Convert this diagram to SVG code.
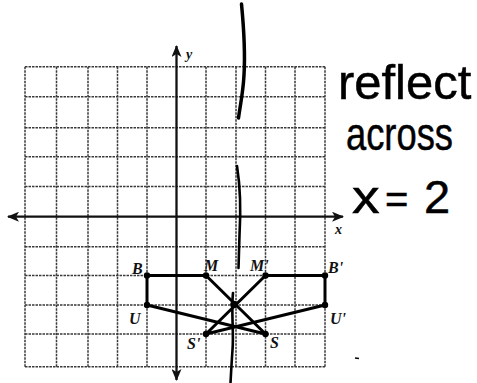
<svg xmlns="http://www.w3.org/2000/svg" width="477" height="383" viewBox="0 0 477 383">
<style>
.grid{stroke:#3a3a3a;stroke-width:1.5;stroke-dasharray:2.5 1;fill:none}
.axis{stroke:#111;stroke-width:2.3;fill:none}
.edge{stroke:#000;stroke-width:3;fill:none;stroke-linejoin:round}
.dot{fill:#000}
.lbl{font-family:"Liberation Serif",serif;font-style:italic;font-weight:bold;font-size:16px;fill:#111}
.ax{font-family:"Liberation Serif",serif;font-style:italic;font-weight:bold;font-size:14px;fill:#111}
.hand{font-family:"Liberation Sans","DejaVu Sans",sans-serif;fill:#000;stroke:#000;stroke-width:0.5}
.pen{stroke:#000;fill:none;stroke-linecap:round}
</style>
<defs>
<marker id="arr" markerUnits="userSpaceOnUse" markerWidth="12" markerHeight="10" refX="11" refY="5" orient="auto-start-reverse">
<path d="M0,0 L12,5 L0,10 L3,5 z" fill="#111"/>
</marker>
</defs>
<rect width="477" height="383" fill="#fff"/>
<g id="grid">
<path class="grid" d="M25,66.7V366.7M56.5,66.7V366.7M88,66.7V366.7M117.5,66.7V366.7M147,66.7V366.7M206,66.7V366.7M236,66.7V366.7M265.5,66.7V366.7M295,66.7V366.7M325,66.7V366.7"/>
<path class="grid" d="M25,66.7H325M25,96.7H325M25,127.7H325M25,156.7H325M25,186.5H325M25,246.7H325M25,275.5H325M25,305H325M25,334H325M25,366.7H325"/>
</g>
<g id="axes">
<line class="axis" x1="8" y1="216.7" x2="343" y2="216.7" marker-start="url(#arr)" marker-end="url(#arr)"/>
<line class="axis" x1="176.5" y1="380" x2="176.5" y2="46" marker-start="url(#arr)" marker-end="url(#arr)"/>
<text class="ax" x="186" y="59">y</text>
<text class="ax" x="335" y="234" font-size="12">x</text>
</g>
<g id="connectors">
<path class="edge" d="M147,275.5H206L265.5,334L147,305Z"/>
<path class="edge" d="M325,275.5H265.5L206,334L325,305Z"/>
</g>
<g id="B"><circle class="dot" cx="147" cy="275.5" r="3.2"/><text class="lbl" x="132" y="274">B</text></g>
<g id="M"><circle class="dot" cx="206" cy="275.5" r="3.2"/><text class="lbl" x="204" y="271">M</text></g>
<g id="S"><circle class="dot" cx="265.5" cy="334" r="3.2"/><text class="lbl" x="270" y="348">S</text></g>
<g id="U"><circle class="dot" cx="147" cy="305" r="3.2"/><text class="lbl" x="129" y="324">U</text></g>
<g id="Bp"><circle class="dot" cx="325" cy="275.5" r="3.2"/><text class="lbl" x="328" y="273">B'</text></g>
<g id="Mp"><circle class="dot" cx="265.5" cy="275.5" r="3.2"/><text class="lbl" x="250" y="271">M'</text></g>
<g id="Sp"><circle class="dot" cx="206" cy="334" r="3.2"/><text class="lbl" x="187" y="349">S'</text></g>
<g id="Up"><circle class="dot" cx="325" cy="305" r="3.2"/><text class="lbl" x="330" y="324">U'</text></g>
<g id="center"><circle class="dot" cx="234" cy="304.5" r="3.8"/></g>
<g id="mirror-line">
<path class="pen" stroke-width="3.5" d="M241.5,4 C244,30 245,58 244,75 C243,94 240,106 238.5,118"/>
<path class="pen" stroke-width="2.6" d="M237,166 C240,185 241,210 239.5,235 L238.5,268"/>
<path class="pen" stroke-width="2.6" d="M233,293 C231,312 234,333 232.5,350 C231.5,364 231,374 230.5,383"/>
</g>
<g id="note">
<text class="hand" transform="translate(338,99) scale(1.02,1)" x="0" y="0" font-size="48">reflect</text>
<text class="hand" transform="translate(346,150) scale(0.79,1)" x="0" y="0" font-size="46">across</text>
<text class="hand" transform="translate(352,213) scale(1.2,1)" x="0" y="0" font-size="46">x</text>
<text class="hand" x="385" y="213" font-size="40">=</text>
<text class="hand" x="424" y="213" font-size="47">2</text>
</g>
<line x1="355" y1="358" x2="359" y2="358.5" stroke="#000" stroke-width="1.5"/>
</svg>
